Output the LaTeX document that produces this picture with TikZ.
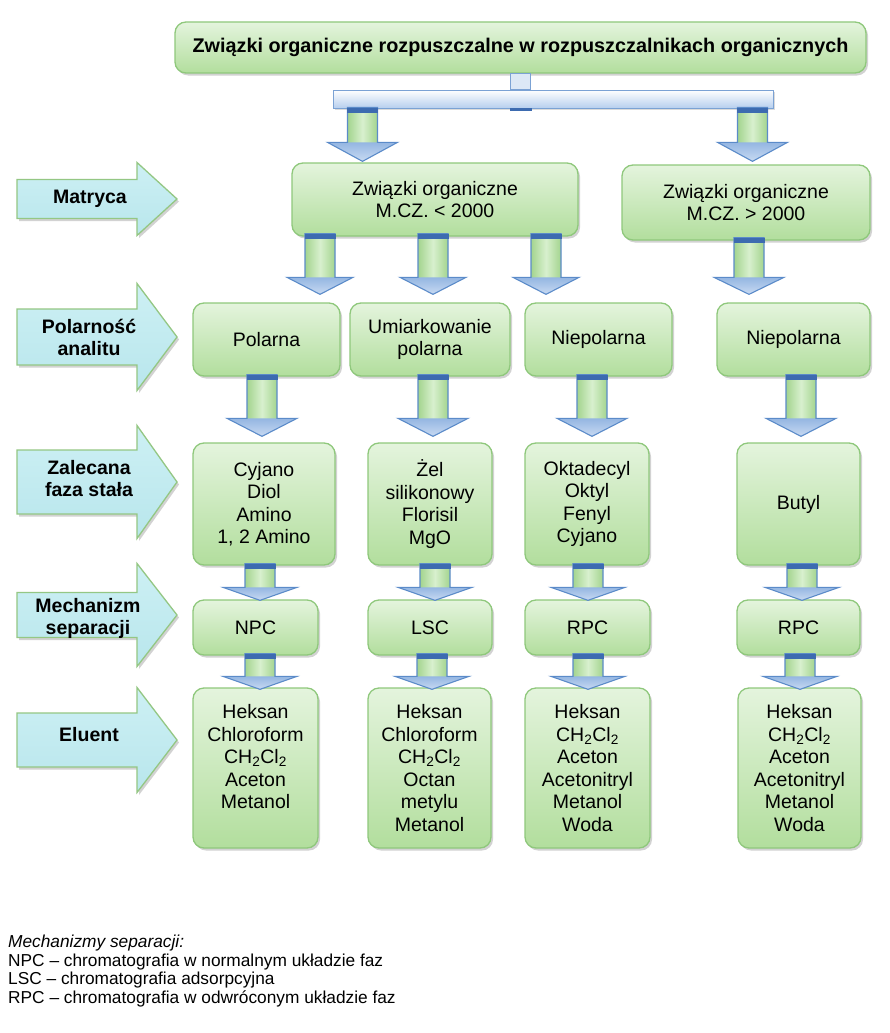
\documentclass[tikz,border=0pt]{standalone}
\usepackage{fontspec}
\setmainfont{Liberation Sans}
\usetikzlibrary{calc,shadows}
\definecolor{gborder}{HTML}{8FC87C}
\definecolor{gtop}{HTML}{E4F4DD}
\definecolor{gbot}{HTML}{B2DE9D}
\definecolor{ablue}{HTML}{5B8BC9}
\definecolor{acap}{HTML}{3D6BB0}
\definecolor{ahead1}{HTML}{C8DAF2}
\definecolor{ahead2}{HTML}{94B6E2}
\definecolor{sgreen1}{HTML}{A3D48E}
\definecolor{sgreen2}{HTML}{D8F0CE}
\definecolor{cyanf}{HTML}{CDF0F4}
\definecolor{cyanf2}{HTML}{B8E6EC}
\definecolor{lborder}{HTML}{94C784}
\definecolor{barbot}{HTML}{B7CFEE}
\definecolor{barline}{HTML}{7BA2D4}
\definecolor{stubfill}{HTML}{DCE8F6}
\tikzset{
  x=1pt, y=-1pt,
  gbox/.style={draw=gborder, line width=1.3pt, rounded corners=11pt,
    top color=gtop, bottom color=gbot,
    drop shadow={shadow xshift=2pt, shadow yshift=-2.5pt, opacity=.25, fill=black!70},
    align=center, inner sep=0pt, font=\fontsize{19.5}{22.5}\selectfont, text=black},
  barstyle/.style={draw=barline, line width=1pt, top color=white, bottom color=barbot, inner sep=0pt,
    drop shadow={shadow xshift=1.5pt, shadow yshift=-2pt, opacity=.2, fill=black!70}},
  stubstyle/.style={draw=barline, line width=1pt, fill=stubfill},
  shaftfill/.style={left color=sgreen1, right color=sgreen1, middle color=sgreen2},
  headfill/.style={top color=ahead2, bottom color=ahead1},
  arrowline/.style={draw=ablue, line width=1.1pt, line join=miter},
  capfill/.style={fill=acap},
  larrowstyle/.style={draw=lborder, line width=1.3pt, top color=cyanf, bottom color=cyanf2,
    drop shadow={shadow xshift=2pt, shadow yshift=-2.5pt, opacity=.25, fill=black!70}},
  lbl/.style={align=center, inner sep=0pt, font=\bfseries\fontsize{19.5}{22}\selectfont},
}
\newcommand\barrow[5]{%
  \path[shaftfill] let \p1=#1,\p2=#2 in (\x1-15pt,\y1) rectangle (\x1+15pt,\y2+#3+#4);
  \path[headfill] let \p1=#1,\p2=#2 in (\x1-#5,\y2+#3+#4) -- (\x1,\y2+#3) -- (\x1+#5,\y2+#3+#4) -- cycle;
  \draw[arrowline] let \p1=#1,\p2=#2 in (\x1-15pt,\y1) -- (\x1-15pt,\y2+#3+#4) -- (\x1-#5,\y2+#3+#4) -- (\x1,\y2+#3) -- (\x1+#5,\y2+#3+#4) -- (\x1+15pt,\y2+#3+#4) -- (\x1+15pt,\y1) -- cycle;
  \path[capfill] let \p1=#1,\p2=#2 in (\x1-15.5pt,\y1) rectangle (\x1+15.5pt,\y1-5pt);
}
\newcommand\larrow[3]{%
  \path[larrowstyle] (17,#1-#2) -- (137,#1-#2) -- (137,#1-#3) -- (177,#1) -- (137,#1+#3) -- (137,#1+#2) -- (17,#1+#2) -- cycle;
}
\begin{document}
\begin{tikzpicture}
\useasboundingbox (0,0) rectangle (890,1033);
\fill[white] (0,0) rectangle (890,1033);

% title and bracket
\node[gbox, font=\bfseries\fontsize{19.8}{22}\selectfont, minimum width=691pt, minimum height=51pt] (title) at (520.5,47.5) {Związki organiczne rozpuszczalne w rozpuszczalnikach organicznych};
\node[barstyle, minimum width=440pt, minimum height=18pt] (bar) at (553,99) {};
\path[stubstyle] ($(title.south)+(-10,0)$) rectangle ($(title.south |- bar.north)+(10,0)$);
\fill[acap] ($(title.south |- bar.south)+(-11,-1)$) rectangle ($(title.south |- bar.south)+(11,2)$);

% matrix level
\node[gbox, minimum width=286pt, minimum height=73pt] (lt) at (435,199.5) {Związki organiczne\\M.CZ. < 2000};
\node[gbox, minimum width=248pt, minimum height=75pt] (rt) at (746,202.5) {Związki organiczne\\M.CZ. > 2000};

% polarity level
\node[gbox, minimum width=147pt, minimum height=73pt] (p1) at (266.5,339.5) {Polarna};
\node[gbox, minimum width=160pt, minimum height=73pt] (p2) at (430,339.5) {Umiarkowanie\\polarna};
\node[gbox, minimum width=147pt, minimum height=73pt] (p3) at (598.5,339.5) {Niepolarna};
\node[gbox, minimum width=153pt, minimum height=73pt] (p4) at (793.5,339.5) {Niepolarna};

% stationary phase level
\node[gbox, minimum width=142pt, minimum height=122pt] (s1) at (264,504) {Cyjano\\Diol\\Amino\\1, 2 Amino};
\node[gbox, minimum width=124pt, minimum height=122pt] (s2) at (430,504) {Żel\\silikonowy\\Florisil\\MgO};
\node[gbox, minimum width=124pt, minimum height=122pt] (s3) at (587,504) {Oktadecyl\\Oktyl\\Fenyl\\Cyjano};
\node[gbox, minimum width=123pt, minimum height=122pt] (s4) at (798.5,504) {Butyl};

% mechanism level
\node[gbox, minimum width=125pt, minimum height=55pt] (m1) at (255.5,627.5) {NPC};
\node[gbox, minimum width=124pt, minimum height=55pt] (m2) at (430,627.5) {LSC};
\node[gbox, minimum width=125pt, minimum height=55pt] (m3) at (587.5,627.5) {RPC};
\node[gbox, minimum width=123pt, minimum height=55pt] (m4) at (798.5,627.5) {RPC};

% eluent level
\node[gbox, minimum width=125pt, minimum height=160pt] (e1) at (255.5,768) {Heksan\\Chloroform\\CH\textsubscript{2}Cl\textsubscript{2}\\Aceton\\Metanol\\\mbox{}};
\node[gbox, minimum width=123pt, minimum height=160pt] (e2) at (429.5,768) {Heksan\\Chloroform\\CH\textsubscript{2}Cl\textsubscript{2}\\Octan\\metylu\\Metanol};
\node[gbox, minimum width=125pt, minimum height=160pt] (e3) at (587.5,768) {Heksan\\CH\textsubscript{2}Cl\textsubscript{2}\\Aceton\\Acetonitryl\\Metanol\\Woda};
\node[gbox, minimum width=123pt, minimum height=160pt] (e4) at (799.5,768) {Heksan\\CH\textsubscript{2}Cl\textsubscript{2}\\Aceton\\Acetonitryl\\Metanol\\Woda};

% block arrows
\barrow{($(bar.south west)+(30,-1)$)}{(lt.north)}{1pt}{19pt}{35pt}
\barrow{($(bar.south east)+(-21,-1)$)}{(rt.north)}{3pt}{19pt}{35pt}

\barrow{($(lt.south)+(-115,-3)$)}{(p1.north)}{8pt}{17pt}{33pt}
\barrow{($(lt.south)+(-2,-3)$)}{(p2.north)}{8pt}{17pt}{33pt}
\barrow{($(lt.south)+(111,-3)$)}{(p3.north)}{8pt}{17pt}{33pt}
\barrow{($(rt.south)+(3,-3)$)}{(p4.north)}{8pt}{17pt}{35pt}

\barrow{($(p1.south)+(-4.5,-2)$)}{(s1.north)}{6pt}{18pt}{35pt}
\barrow{($(p2.south)+(3,-2)$)}{(s2.north)}{6pt}{18pt}{35pt}
\barrow{($(p3.south)+(-6.5,-2)$)}{(s3.north)}{6pt}{18pt}{35pt}
\barrow{($(p4.south)+(7.5,-2)$)}{(s4.north)}{6pt}{18pt}{35pt}

\barrow{($(s1.south)+(-4,-2)$)}{(m1.north)}{-1pt}{13pt}{37pt}
\barrow{($(s2.south)+(5,-2)$)}{(m2.north)}{-1pt}{13pt}{37pt}
\barrow{($(s3.south)+(1,-2)$)}{(m3.north)}{-1pt}{13pt}{37pt}
\barrow{($(s4.south)+(3.5,-2)$)}{(m4.north)}{-1pt}{13pt}{37pt}

\barrow{($(m1.south)+(4.5,-2)$)}{(e1.north)}{-2pt}{13pt}{37pt}
\barrow{($(m2.south)+(2,-2)$)}{(e2.north)}{-2pt}{13pt}{37pt}
\barrow{($(m3.south)+(0.5,-2)$)}{(e3.north)}{-2pt}{13pt}{37pt}
\barrow{($(m4.south)+(1.5,-2)$)}{(e4.north)}{-2pt}{13pt}{37pt}

% left category arrows
\larrow{199}{19.5}{36.5}
\node[lbl] (lmat) at (90,199) {Matryca};
\larrow{337}{28}{53.5}
\node[lbl] (lpol) at (89,337) {Polarność\\analitu};
\larrow{482}{32}{56.5}
\node[lbl] (lzal) at (89,479) {Zalecana\\faza stała};
\larrow{615}{22.5}{51.5}
\node[lbl] (lmech) at (88,618) {Mechanizm\\separacji};
\larrow{740}{27}{52.5}
\node[lbl] (lelu) at (89,735) {Eluent};

% legend
\node[anchor=north west, align=left, inner sep=0pt, font=\fontsize{17.3}{18.5}\selectfont] (legend) at (8,935) {\textit{Mechanizmy separacji:}\\NPC – chromatografia w normalnym układzie faz\\LSC – chromatografia adsorpcyjna\\RPC – chromatografia w odwróconym układzie faz};
\end{tikzpicture}
\end{document}
